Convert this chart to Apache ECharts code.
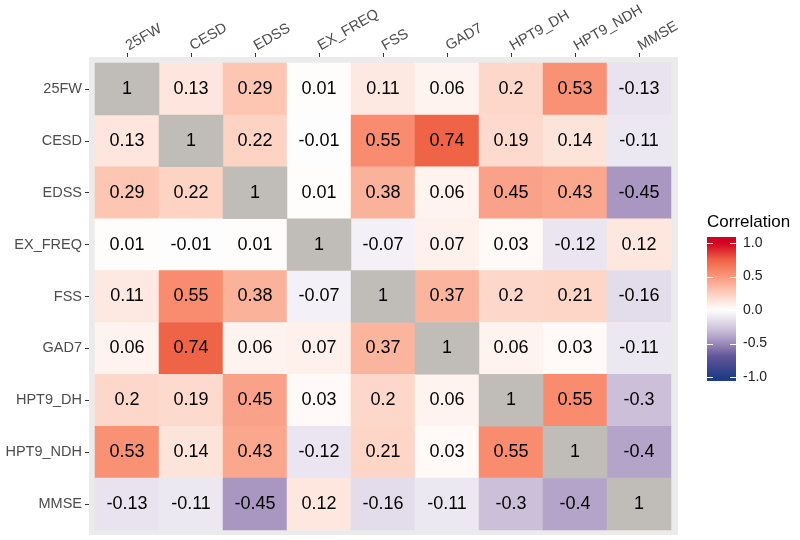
<!DOCTYPE html>
<html>
<head>
<meta charset="utf-8">
<script src="https://cdn.jsdelivr.net/npm/echarts@6/dist/echarts.min.js"></script>
<style>
html,body{margin:0;padding:0;background:#fff;}
#chart{width:800px;height:540px;}
</style>
</head>
<body>
<div id="chart"></div>
<script>
// ---- data ----
const variables = ['25FW','CESD','EDSS','EX_FREQ','FSS','GAD7','HPT9_DH','HPT9_NDH','MMSE'];
const row25FW    = [1, 0.13, 0.29, 0.01, 0.11, 0.06, 0.2, 0.53, -0.13];
const rowCESD    = [0.13, 1, 0.22, -0.01, 0.55, 0.74, 0.19, 0.14, -0.11];
const rowEDSS    = [0.29, 0.22, 1, 0.01, 0.38, 0.06, 0.45, 0.43, -0.45];
const rowEXFREQ  = [0.01, -0.01, 0.01, 1, -0.07, 0.07, 0.03, -0.12, 0.12];
const rowFSS     = [0.11, 0.55, 0.38, -0.07, 1, 0.37, 0.2, 0.21, -0.16];
const rowGAD7    = [0.06, 0.74, 0.06, 0.07, 0.37, 1, 0.06, 0.03, -0.11];
const rowHPT9DH  = [0.2, 0.19, 0.45, 0.03, 0.2, 0.06, 1, 0.55, -0.3];
const rowHPT9NDH = [0.53, 0.14, 0.43, -0.12, 0.21, 0.03, 0.55, 1, -0.4];
const rowMMSE    = [-0.13, -0.11, -0.45, 0.12, -0.16, -0.11, -0.3, -0.4, 1];
const legendTicks = [1.0, 0.5, 0.0, -0.5, -1.0];
const legendTitle = 'Correlation';

// ---- style ----
const anchors = [
  [-1.0, [33, 60, 135]],
  [-0.7, [95, 84, 152]],
  [-0.45, [169, 150, 193]],
  [-0.3, [203, 191, 217]],
  [0.0, [255, 255, 255]],
  [0.29, [252, 198, 178]],
  [0.55, [249, 140, 111]],
  [0.74, [239, 101, 71]],
  [1.0, [208, 2, 31]]
];
function colorAt(v) {
  v = Math.max(-1, Math.min(1, v));
  for (let i = 0; i < anchors.length - 1; i++) {
    const [a, ca] = anchors[i], [b, cb] = anchors[i + 1];
    if (v >= a && v <= b) {
      const t = (v - a) / (b - a);
      const c = ca.map((x, k) => Math.round(x + (cb[k] - x) * t));
      return 'rgb(' + c.join(',') + ')';
    }
  }
  return 'rgb(' + anchors[anchors.length - 1][1].join(',') + ')';
}
const stops = [];
for (let i = 0; i <= 80; i++) stops.push(colorAt(-1 + i * 0.025));
const diagColor = '#C0BCB8';

const rows = [row25FW, rowCESD, rowEDSS, rowEXFREQ, rowFSS, rowGAD7, rowHPT9DH, rowHPT9NDH, rowMMSE];
const offDiag = [], diag = [];
rows.forEach((r, yi) => r.forEach((v, xi) => {
  (xi === yi ? diag : offDiag).push([xi, yi, v]);
}));

// legend geometry
const barX = 707, barW = 29, barTop = 237, barBot = 381;
const yOf = v => 310 - 67 * v;
const gradStops = [];
for (let i = 0; i <= 40; i++) {
  const y = barTop + (barBot - barTop) * i / 40;
  gradStops.push({offset: i / 40, color: colorAt((310 - y) / 67)});
}
const legendEls = [
  {type: 'rect', shape: {x: barX, y: barTop, width: barW, height: barBot - barTop},
   style: {fill: new echarts.graphic.LinearGradient(0, 0, 0, 1, gradStops)}, z: 10},
  {type: 'text', x: barX, y: 222, style: {text: legendTitle, fontSize: 17, fill: '#000',
   fontFamily: 'Liberation Sans, Arial', verticalAlign: 'middle'}, z: 10}
];
legendTicks.forEach(v => {
  const y = Math.round(yOf(v)) + 0.5;
  legendEls.push({type: 'line', shape: {x1: barX, y1: y, x2: barX + 6, y2: y}, style: {stroke: '#fff', lineWidth: 1}, z: 11});
  legendEls.push({type: 'line', shape: {x1: barX + barW - 6, y1: y, x2: barX + barW, y2: y}, style: {stroke: '#fff', lineWidth: 1}, z: 11});
  legendEls.push({type: 'text', x: 743, y: yOf(v), style: {text: v.toFixed(1), fontSize: 14, fill: '#222',
    fontFamily: 'Liberation Sans, Arial', verticalAlign: 'middle'}, z: 10});
});

const chart = echarts.init(document.getElementById('chart'), null, {renderer: 'canvas'});
const axisFont = {fontSize: 14.5, color: '#4D4D4D', fontFamily: 'Liberation Sans, Arial'};
chart.setOption({
  animation: false,
  backgroundColor: '#fff',
  grid: {left: 95, top: 63, width: 576, height: 467},
  xAxis: {
    type: 'category', data: variables, position: 'top', offset: 6,
    axisLine: {show: false},
    axisTick: {show: true, alignWithLabel: true, length: 4, lineStyle: {color: '#333', width: 1}},
    axisLabel: Object.assign({rotate: -30, margin: 10, interval: 0}, axisFont),
    splitLine: {show: false}
  },
  yAxis: {
    type: 'category', data: variables, inverse: true, offset: 6,
    axisLine: {show: false},
    axisTick: {show: true, alignWithLabel: true, length: 4, lineStyle: {color: '#333', width: 1}},
    axisLabel: Object.assign({margin: 7, interval: 0}, axisFont),
    splitLine: {show: false}
  },
  visualMap: {type: 'continuous', min: -1, max: 1, show: false, seriesIndex: 0, inRange: {color: stops}},
  graphic: [
    {type: 'rect', shape: {x: 89, y: 57, width: 589, height: 478}, style: {fill: '#EBEBEB'}, z: -10}
  ].concat(legendEls),
  series: [
    {type: 'heatmap', data: offDiag, z: 2,
     label: {show: true, formatter: p => String(p.value[2]), fontSize: 18, color: '#000', fontFamily: 'Liberation Sans, Arial'},
     itemStyle: {borderWidth: 0}, emphasis: {disabled: true}},
    {type: 'heatmap', data: diag, z: 2,
     itemStyle: {color: diagColor, borderWidth: 0},
     label: {show: true, formatter: p => String(p.value[2]), fontSize: 18, color: '#000', fontFamily: 'Liberation Sans, Arial'},
     emphasis: {disabled: true}}
  ]
});
</script>
</body>
</html>
